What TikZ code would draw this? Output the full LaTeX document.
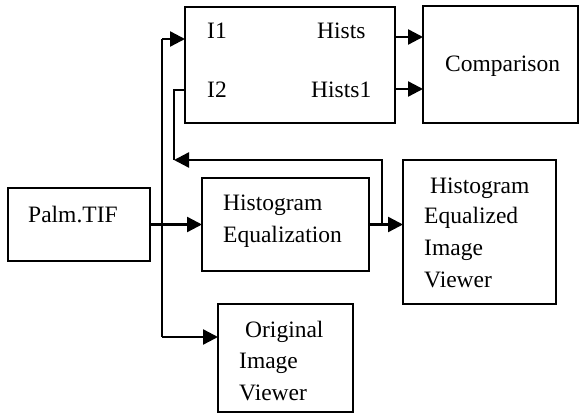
\documentclass[tikz,border=0pt]{standalone}
\usepackage{fontspec}
\setmainfont{Liberation Serif}
\usetikzlibrary{arrows.meta}
\tikzset{
  box/.style={draw, line width=2pt, inner sep=0pt, outer sep=0pt},
  txt/.style={anchor=base west, inner sep=0pt, font=\fontsize{23.5}{28}\selectfont},
  conn/.style={line width=2.4pt},
  arr/.style={conn, -{Triangle[length=15pt,width=15pt]}}
}
\begin{document}
\begin{tikzpicture}[x=1pt,y=-1pt]
\useasboundingbox (0,0) rectangle (580,414);
% boxes
\node[box, minimum width=210pt, minimum height=116pt] (tb) at (290,65) {};
\node[box, minimum width=155pt, minimum height=117pt] (comp) at (500.5,64.5) {};
\node[box, minimum width=142pt, minimum height=73pt] (palm) at (79,224.5) {};
\node[box, minimum width=167pt, minimum height=93pt] (he) at (285.5,224.5) {};
\node[box, minimum width=153pt, minimum height=144pt] (heiv) at (479.5,232) {};
\node[box, minimum width=135pt, minimum height=108pt] (orig) at (285.5,358) {};
% texts
\node[txt] (ti1) at (207,39) {I1};
\node[txt] (ti2) at (207,98) {I2};
\node[txt] (th) at (317,39) {Hists};
\node[txt] (th1) at (311,98) {Hists1};
\node[txt] (tc) at (445,72) {Comparison};
\node[txt] (tp) at (28,222) {Palm.TIF};
\node[txt] (the1) at (223,210) {Histogram};
\node[txt] (the2) at (223,242) {Equalization};
\node[txt] (tv1) at (430,193) {Histogram};
\node[txt] (tv2) at (424,223) {Equalized};
\node[txt] (tv3) at (424,255) {Image};
\node[txt] (tv4) at (424,287) {Viewer};
\node[txt] (to1) at (245,337) {Original};
\node[txt] (to2) at (239,368) {Image};
\node[txt] (to3) at (239,400) {Viewer};
% connectors
\coordinate (v1) at (162,39);
\coordinate (v2) at (162,337);
\coordinate (r1) at (382,226);
\coordinate (r2) at (174,160);
\coordinate (r3) at (174,90);
\draw[arr] (palm.east) -- (palm.east -| he.west);
\draw[conn] (v1) -- (v2);
\draw[arr] (v1) -- (v1 -| tb.west);
\draw[arr] (v2) -- (v2 -| orig.west);
\draw[arr] (he.east) -- (he.east -| heiv.west);
\draw[arr] (r1) |- (r2);
\draw[conn] (r2) -- (r3) -- (r3 -| tb.west);
\coordinate (a1) at (395,37);
\coordinate (a2) at (395,89);
\draw[arr] (a1) -- (a1 -| comp.west);
\draw[arr] (a2) -- (a2 -| comp.west);
\end{tikzpicture}
\end{document}
